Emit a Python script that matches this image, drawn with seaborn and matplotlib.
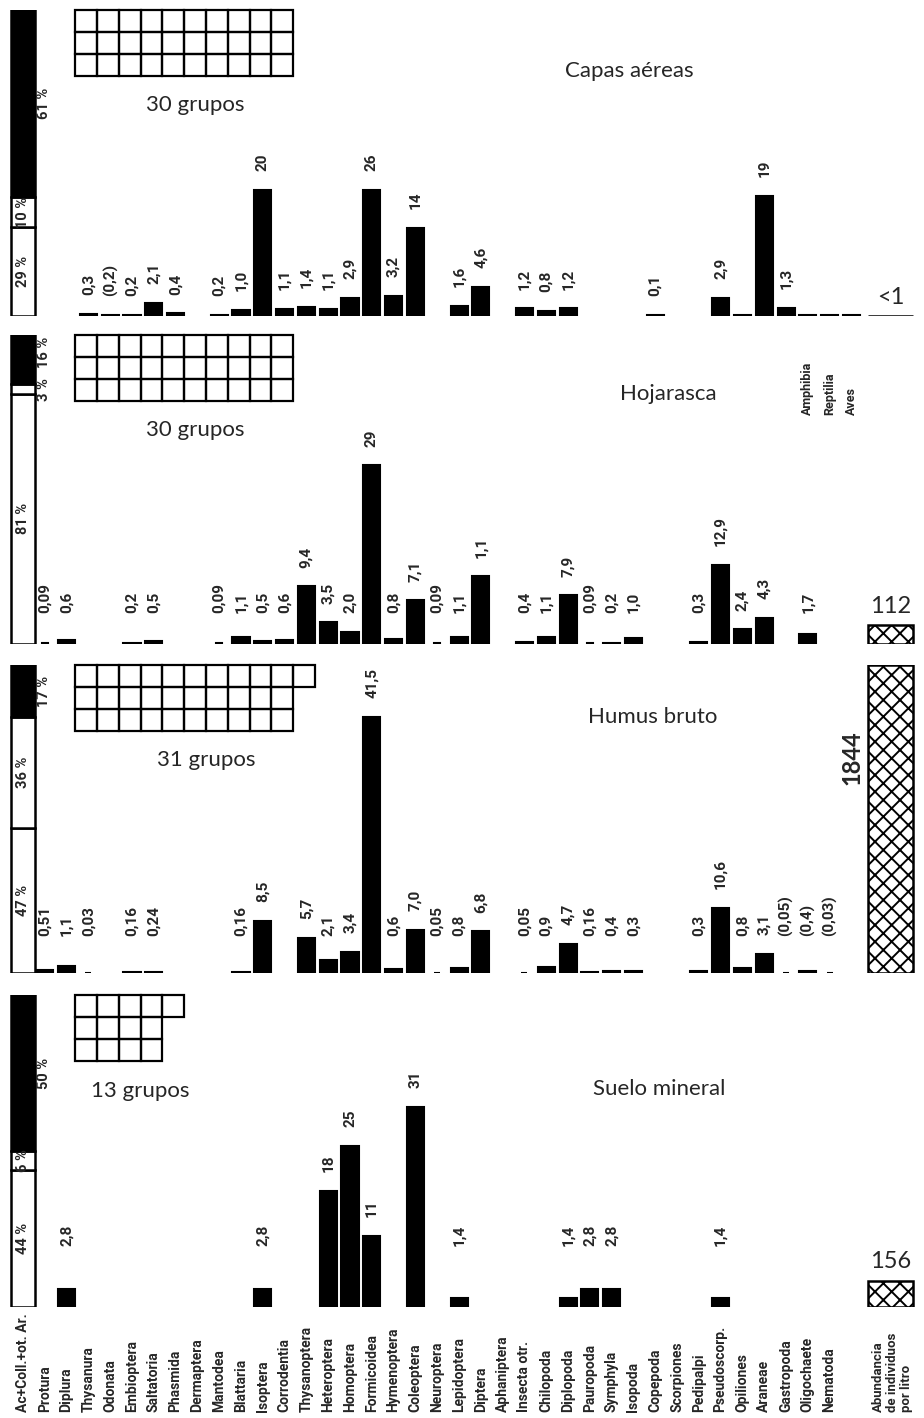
import numpy as np
import pandas as pd
import matplotlib
matplotlib.use("Agg")
import matplotlib.pyplot as plt
from matplotlib.patches import Rectangle
import seaborn as sns

# ---------------- data ----------------
taxa = ["Protura", "Diplura", "Thysanura", "Odonata", "Embioptera", "Saltatoria",
        "Phasmida", "Dermaptera", "Mantodea", "Blattaria", "Isoptera", "Corrodentia",
        "Thysanoptera", "Heteroptera", "Homoptera", "Formicoidea", "Hymenoptera",
        "Coleoptera", "Neuroptera", "Lepidoptera", "Diptera", "Aphaniptera",
        "Insecta otr.", "Chilopoda", "Diplopoda", "Pauropoda", "Symphyla", "Isopoda",
        "Copepoda", "Scorpiones", "Pedipalpi", "Pseudoscorp.", "Opiliones", "Araneae",
        "Gastropoda", "Oligochaete", "Nematoda"]
vertebrates = ["Amphibia", "Reptilia", "Aves"]
first_label = "Ac+Coll.+ot. Ar."
abund_label = "Abundancia\nde individuos\npor litro"

panel_titles = ["Capas aéreas", "Hojarasca", "Humus bruto", "Suelo mineral"]
n_groups = [30, 30, 31, 13]
pct_parts = [[29, 10, 61], [81, 3, 16], [47, 36, 17], [44, 6, 50]]   # bottom -> top
abundance = [1, 112, 1844, 156]
abundance_txt = ["<1", "112", "1844", "156"]

aereas_taxa = ["Thysanura", "Odonata", "Embioptera", "Saltatoria", "Phasmida", "Mantodea",
               "Blattaria", "Isoptera", "Corrodentia", "Thysanoptera", "Heteroptera",
               "Homoptera", "Formicoidea", "Hymenoptera", "Coleoptera", "Lepidoptera",
               "Diptera", "Insecta otr.", "Chilopoda", "Diplopoda", "Copepoda",
               "Pseudoscorp.", "Opiliones", "Araneae", "Gastropoda", "Amphibia",
               "Reptilia", "Aves"]
aereas_vals = [0.3, 0.2, 0.2, 2.1, 0.4, 0.2, 1.0, 20, 1.1, 1.4, 1.1, 2.9, 20, 3.2, 14,
               1.6, 4.6, 1.2, 0.8, 1.2, 0.1, 2.9, 0.2, 19, 1.3, 0.2, 0.2, 0.2]
aereas_txt = ["0,3", "(0,2)", "0,2", "2,1", "0,4", "0,2", "1,0", "20", "1,1", "1,4",
              "1,1", "2,9", "26", "3,2", "14", "1,6", "4,6", "1,2", "0,8", "1,2",
              "0,1", "2,9", "", "19", "1,3", "", "", ""]

hojarasca_taxa = ["Protura", "Diplura", "Embioptera", "Saltatoria", "Mantodea", "Blattaria",
                  "Isoptera", "Corrodentia", "Thysanoptera", "Heteroptera", "Homoptera",
                  "Formicoidea", "Hymenoptera", "Coleoptera", "Neuroptera", "Lepidoptera",
                  "Diptera", "Insecta otr.", "Chilopoda", "Diplopoda", "Pauropoda",
                  "Symphyla", "Isopoda", "Pedipalpi", "Pseudoscorp.", "Opiliones",
                  "Araneae", "Oligochaete"]
hojarasca_vals = [0.09, 0.6, 0.2, 0.5, 0.09, 1.1, 0.5, 0.6, 9.4, 3.5, 2.0, 29, 0.8, 7.1,
                  0.09, 1.1, 11, 0.4, 1.1, 7.9, 0.09, 0.2, 1.0, 0.3, 12.9, 2.4, 4.3, 1.7]
hojarasca_txt = ["0,09", "0,6", "0,2", "0,5", "0,09", "1,1", "0,5", "0,6", "9,4", "3,5",
                 "2,0", "29", "0,8", "7,1", "0,09", "1,1", "1,1", "0,4", "1,1", "7,9",
                 "0,09", "0,2", "1,0", "0,3", "12,9", "2,4", "4,3", "1,7"]

humus_taxa = ["Protura", "Diplura", "Thysanura", "Embioptera", "Saltatoria", "Blattaria",
              "Isoptera", "Thysanoptera", "Heteroptera", "Homoptera", "Formicoidea",
              "Hymenoptera", "Coleoptera", "Neuroptera", "Lepidoptera", "Diptera",
              "Insecta otr.", "Chilopoda", "Diplopoda", "Pauropoda", "Symphyla", "Isopoda",
              "Pedipalpi", "Pseudoscorp.", "Opiliones", "Araneae", "Gastropoda",
              "Oligochaete", "Nematoda"]
humus_vals = [0.51, 1.1, 0.03, 0.16, 0.24, 0.16, 8.5, 5.7, 2.1, 3.4, 41.5, 0.6, 7.0, 0.05,
              0.8, 6.8, 0.05, 0.9, 4.7, 0.16, 0.4, 0.3, 0.3, 10.6, 0.8, 3.1, 0.05, 0.4, 0.03]
humus_txt = ["0,51", "1,1", "0,03", "0,16", "0,24", "0,16", "8,5", "5,7", "2,1", "3,4",
             "41,5", "0,6", "7,0", "0,05", "0,8", "6,8", "0,05", "0,9", "4,7", "0,16",
             "0,4", "0,3", "0,3", "10,6", "0,8", "3,1", "(0,05)", "(0,4)", "(0,03)"]

suelo_taxa = ["Diplura", "Isoptera", "Heteroptera", "Homoptera", "Formicoidea", "Coleoptera",
              "Lepidoptera", "Diplopoda", "Pauropoda", "Symphyla", "Pseudoscorp."]
suelo_vals = [2.8, 2.8, 18, 25, 11, 31, 1.4, 1.4, 2.8, 2.8, 1.4]
suelo_txt = ["2,8", "2,8", "18", "25", "11", "31", "1,4", "1,4", "2,8", "2,8", "1,4"]

panels = [(aereas_taxa, aereas_vals, aereas_txt),
          (hojarasca_taxa, hojarasca_vals, hojarasca_txt),
          (humus_taxa, humus_vals, humus_txt),
          (suelo_taxa, suelo_vals, suelo_txt)]

# ---------------- style / layout ----------------
sns.set_style("white")
plt.rcParams["font.family"] = ["Lato", "DejaVu Sans"]
plt.rcParams["hatch.linewidth"] = 1.4
plt.rcParams["hatch.color"] = "black"
BOLD = dict(family=["Roboto", "DejaVu Sans"], fontweight="bold")

PX_W, PX_H = 924, 1418
fig = plt.figure(figsize=(PX_W / 100, PX_H / 100), dpi=100)
fig.patch.set_facecolor("white")

col = {name: i + 1 for i, name in enumerate(taxa)}
col.update({name: 36 + i for i, name in enumerate(vertebrates)})
XLIM = (-1.055, 41.33)
ABD_POS, ABD_W = 39.8, 2.05
GRID_X0 = 2.39
panel_px = [(10, 316), (335, 644), (665, 973), (995, 1307)]
panel_ytop = [48.6, 50.2, 49.9, 48.4]
label_floor = [3.0, 5.0, 6.0, 9.5]
label_gap = 3.0
title_xy = [(27.8, 0.80), (29.6, 0.81), (28.9, 0.83), (29.2, 0.70)]

last_ax = None
for k in range(4):
    top, base = panel_px[k]
    hpx = base - top
    ax = fig.add_axes([0, 1 - base / PX_H, 1, hpx / PX_H])
    names, vals, txts = panels[k]
    df = pd.DataFrame({"pos": [col[n] for n in names], "value": vals, "label": txts})
    sns.barplot(data=df, x="pos", y="value", native_scale=True, color="black",
                saturation=1, width=0.78, edgecolor="black", linewidth=1.5,
                errorbar=None, ax=ax)
    for p in ax.patches:
        if p.get_height() < 0.1:
            w = p.get_width()
            p.set_x(p.get_x() + w * 0.32)
            p.set_width(w * 0.36)
    for _, r in df.iterrows():
        if r["label"]:
            ax.text(r["pos"], max(r["value"] + label_gap, label_floor[k]), r["label"],
                    rotation=90, ha="center", va="bottom", fontsize=11, **BOLD)
    ax.set_ylim(0, panel_ytop[k])

    # stacked percentage column
    axp = ax.twinx()
    parts = pct_parts[k]
    cum = np.concatenate([[0], np.cumsum(parts)[:-1]])
    colors = ["white", "white", "black"]
    axp.bar([0, 0, 0], parts, bottom=cum, width=1.1, color=colors,
            edgecolor="black", linewidth=1.8)
    prev_out = False
    for v, b, c in zip(parts, cum, colors):
        inside = (c == "white" and v >= 5)
        if inside:
            axp.text(0, b + v / 2, f"{v} %", rotation=90, ha="center", va="center",
                     fontsize=10.5, **BOLD)
        elif prev_out:
            axp.text(0.95, b + v - 0.5, f"{v} %", rotation=90, ha="center", va="top",
                     fontsize=10.5, **BOLD)
        else:
            axp.text(0.95, b + v / 2, f"{v} %", rotation=90, ha="center", va="center",
                     fontsize=10.5, **BOLD)
        prev_out = not inside
    axp.set_ylim(0, 100)

    # abundance box
    axa = ax.twinx()
    axa.bar([ABD_POS], [abundance[k]], width=ABD_W, facecolor="white",
            edgecolor="black", hatch="xx", linewidth=1.8)
    amax = max(abundance)
    if abundance[k] >= 1000:
        axa.text(ABD_POS - ABD_W / 2 - 0.75, 0.7 * amax, abundance_txt[k], rotation=90,
                 ha="center", va="center", fontsize=17, fontweight="bold")
    else:
        axa.annotate(abundance_txt[k], (ABD_POS, abundance[k]), xytext=(0, 6),
                     textcoords="offset points", ha="center", va="bottom", fontsize=17)
    axa.set_ylim(0, amax)

    # groups grid
    n = n_groups[k]
    bw = n // 3
    rows = [bw + (n - 3 * bw), bw, bw]
    cy = 22 / hpx
    tr = ax.get_xaxis_transform()
    for ri, cnt in enumerate(rows):
        for ci in range(cnt):
            ax.add_patch(Rectangle((GRID_X0 + ci, 1 - (ri + 1) * cy), 1.0, cy,
                                   transform=tr, fill=False, edgecolor="black",
                                   linewidth=1.6, clip_on=False))
    ax.text(GRID_X0 + max(rows) / 2 + 0.5, 1 - 3 * cy - 0.095, f"{n} grupos",
            transform=tr, ha="center", va="center", fontsize=16)

    # title
    tx, ty = title_xy[k]
    ax.text(tx, ty, panel_titles[k], transform=tr, ha="center", va="center", fontsize=16)

    if k == 0:
        for name in vertebrates:
            ax.text(col[name], (316 - 415) / hpx, name, transform=tr, rotation=90,
                    rotation_mode="anchor", ha="left", va="center", fontsize=9, **BOLD)

    for a in (ax, axp, axa):
        a.set_axis_off()
    ax.set_xlim(*XLIM)
    last_ax = ax

# category labels below the last panel
tr = last_ax.get_xaxis_transform()
ylab = (1307 - 1412) / (1307 - 995)
last_ax.text(0, ylab, first_label, transform=tr, rotation=90, rotation_mode="anchor",
             ha="left", va="center", fontsize=10, **BOLD)
for name in taxa:
    last_ax.text(col[name], ylab, name, transform=tr, rotation=90, rotation_mode="anchor",
                 ha="left", va="center", fontsize=10, **BOLD)
last_ax.text(ABD_POS + 0.1, ylab, abund_label, transform=tr, rotation=90,
             rotation_mode="anchor", ha="left", va="center", fontsize=9.5,
             linespacing=1.1, **BOLD)

fig.savefig("out.png", dpi=100, facecolor="white")
